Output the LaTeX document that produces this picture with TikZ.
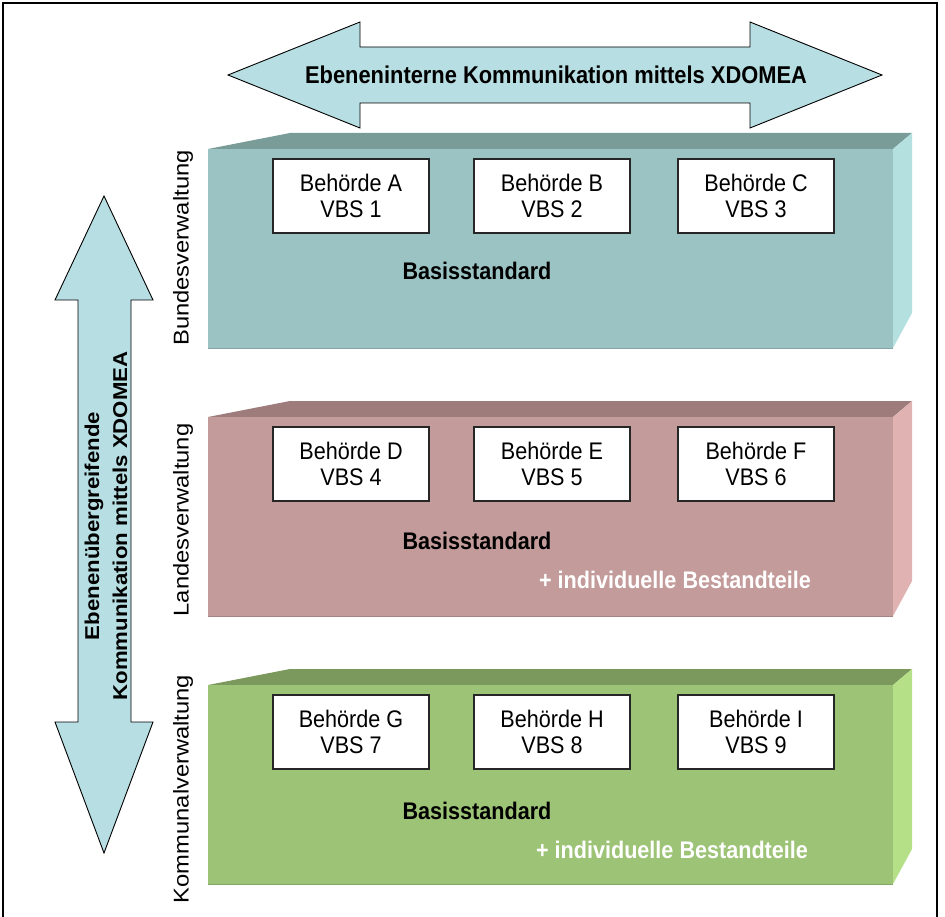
\documentclass[tikz,border=0pt]{standalone}
\usepackage{fontspec}
\setmainfont{Liberation Sans}[FakeStretch=0.9]
\newfontfamily\sidefont{Liberation Sans}[FakeStretch=1.11]

\definecolor{arrowfill}{RGB}{183,222,226}
\definecolor{bundfront}{RGB}{156,195,195}
\definecolor{bundtop}{RGB}{122,156,153}
\definecolor{bundside}{RGB}{181,224,224}
\definecolor{landfront}{RGB}{196,155,155}
\definecolor{landtop}{RGB}{158,124,124}
\definecolor{landside}{RGB}{224,178,178}
\definecolor{kommfront}{RGB}{157,195,118}
\definecolor{kommtop}{RGB}{123,153,92}
\definecolor{kommside}{RGB}{181,224,136}

% one level of administration drawn as a 3D slab; #1 = top edge of the front face
\newcommand\levelslab[4]{%
  \fill[#3] (208,#1) -- (290,{#1-16}) -- (912,{#1-16}) -- (893,#1) -- cycle;
  \fill[#4] (893,#1) -- (912,{#1-16}) -- (912,{#1+164}) -- (893,{#1+199}) -- cycle;
  \fill[#2] (208,#1) rectangle (893,{#1+199});
  \draw[#2!85!black, line width=0.8] (208,{#1+199}) -- (893,{#1+199});
}

\begin{document}
\begin{tikzpicture}[x=1pt,y=-1pt,
  agency/.style={draw=black!85, line width=1.1, fill=white,
    minimum width=156pt, minimum height=74pt, inner sep=0pt, align=center,
    font=\fontsize{24}{26}\selectfont},
  basis/.style={font=\fontsize{24}{26}\selectfont\bfseries, inner sep=0pt},
  extra/.style={font=\fontsize{24}{26}\selectfont\bfseries, text=white, inner sep=0pt},
  levellabel/.style={rotate=90, inner sep=0pt, font=\sidefont\fontsize{21.4}{24}\selectfont},
  bigarrow/.style={draw=black, line width=0.9, fill=arrowfill, line join=miter}]

\useasboundingbox (0,0) rectangle (945,917);
\fill[white] (0,0) rectangle (945,917);

% outer frame, open at the bottom
\draw[line width=1.8] (3,917) -- (3,3) -- (937,3) -- (937,917);

% horizontal double arrow
\draw[bigarrow] (228,75) -- (360,22) -- (360,47) -- (750,47) -- (750,22)
  -- (882,75) -- (750,128) -- (750,103) -- (360,103) -- (360,128) -- cycle;
\node[font=\fontsize{24.3}{26}\selectfont\bfseries, inner sep=0pt] (intern) at (556,75)
  {Ebeneninterne Kommunikation mittels XDOMEA};

% vertical double arrow
\draw[bigarrow] (104,196) -- (153,300) -- (131,300) -- (131,722) -- (153,722)
  -- (104,853) -- (55,722) -- (78,722) -- (78,300) -- (55,300) -- cycle;
\node[rotate=90, align=center, inner sep=0pt,
  font=\sidefont\fontsize{20}{28}\selectfont\bfseries] (cross) at (106,526)
  {Ebenenübergreifende\\Kommunikation mittels XDOMEA};

% the three levels
\levelslab{149}{bundfront}{bundtop}{bundside}
\levelslab{417}{landfront}{landtop}{landside}
\levelslab{685}{kommfront}{kommtop}{kommside}

\node[levellabel] (bundlabel) at (183,248) {Bundesverwaltung};
\node[levellabel] (landlabel) at (183,520) {Landesverwaltung};
\node[levellabel] (kommlabel) at (183,789) {Kommunalverwaltung};

% Bundesverwaltung
\node[agency] (ba) at (351,196) {Behörde A\\VBS 1};
\node[agency] (bb) at (552,196) {Behörde B\\VBS 2};
\node[agency] (bc) at (756,196) {Behörde C\\VBS 3};
\node[basis] (bbasis) at (477,271) {Basisstandard};

% Landesverwaltung
\node[agency] (ld) at (351,464) {Behörde D\\VBS 4};
\node[agency] (le) at (552,464) {Behörde E\\VBS 5};
\node[agency] (lf) at (756,464) {Behörde F\\VBS 6};
\node[basis] (lbasis) at (477,541) {Basisstandard};
\node[extra] (lextra) at (675,580) {+ individuelle Bestandteile};

% Kommunalverwaltung
\node[agency] (kg) at (351,732) {Behörde G\\VBS 7};
\node[agency] (kh) at (552,732) {Behörde H\\VBS 8};
\node[agency] (ki) at (756,732) {Behörde I\\VBS 9};
\node[basis] (kbasis) at (477,811) {Basisstandard};
\node[extra] (kextra) at (672,850) {+ individuelle Bestandteile};

\end{tikzpicture}
\end{document}
